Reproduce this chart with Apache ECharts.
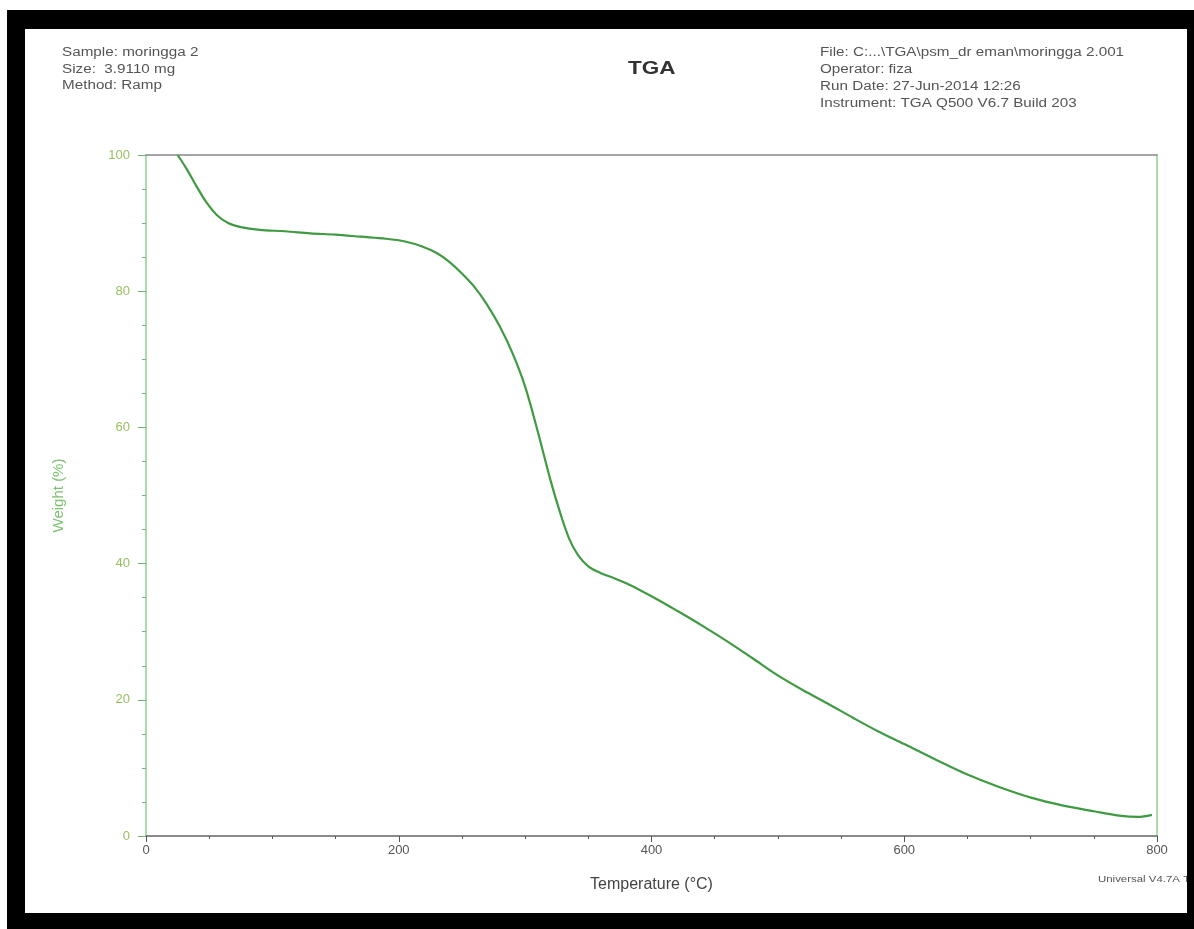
<!DOCTYPE html>
<html>
<head>
<meta charset="utf-8">
<script src="https://cdn.jsdelivr.net/npm/echarts@6/dist/echarts.min.js"></script>
<style>
html,body{margin:0;padding:0;background:#fff;}
#chart{width:1194px;height:929px;}
</style>
</head>
<body>
<div id="chart"></div>
<script>
// Temperature (°C)
var temperature = [25, 32, 40, 48, 56, 65, 75, 90, 110, 130, 150, 170, 190, 205, 218, 230, 240, 250, 260, 270, 280, 290, 300, 310, 320, 328, 335, 342, 350, 360, 370, 380, 391, 405, 420, 440, 459, 480, 499, 520, 539, 560, 580, 600, 625, 649, 675, 701, 725, 751, 770, 785, 796];
// Weight (%)
var weight = [100, 98.0, 95.4, 93.0, 91.2, 90.0, 89.4, 89.0, 88.8, 88.5, 88.3, 88.0, 87.7, 87.3, 86.6, 85.6, 84.3, 82.6, 80.6, 78.0, 74.8, 70.9, 66.0, 59.4, 52.3, 47.3, 43.6, 41.2, 39.6, 38.6, 37.9, 37.1, 36.1, 34.7, 33.1, 30.9, 28.7, 26.1, 23.7, 21.4, 19.5, 17.3, 15.3, 13.5, 11.2, 9.1, 7.2, 5.6, 4.5, 3.6, 3.0, 2.8, 3.1];

var xTicks = [0, 200, 400, 600, 800];
var yTicks = [0, 20, 40, 60, 80, 100];

var headerLeft = ['Sample: moringga 2', 'Size:  3.9110 mg', 'Method: Ramp'];
var headerRight = ['File: C:...\\TGA\\psm_dr eman\\moringga 2.001', 'Operator: fiza', 'Run Date: 27-Jun-2014 12:26', 'Instrument: TGA Q500 V6.7 Build 203'];
var chartTitle = 'TGA';
var xName = 'Temperature (\u00b0C)';
var yName = 'Weight (%)';
var footer = 'Universal V4.7A T';

var FONT = '"Liberation Sans", Arial, sans-serif';
var STRETCH = 1.27;
var data = temperature.map(function (t, i) { return [t, weight[i]]; });

function textLines(lines, x, y0, step, size, color) {
  return lines.map(function (s, i) {
    return {
      type: 'text', x: x, y: y0 + i * step, scaleX: STRETCH, z: 50,
      style: {text: s, fill: color, font: 'normal ' + size + 'px ' + FONT, textAlign: 'left', textVerticalAlign: 'middle', verticalAlign: 'middle'}
    };
  });
}

var graphics = []
  .concat(textLines(headerLeft, 62, 53, 16.5, 12, '#555'))
  .concat(textLines(headerRight, 820, 53, 17, 12, '#555'))
  .concat([
    {type: 'text', x: 628, y: 69, scaleX: 1.25, z: 50,
     style: {text: chartTitle, fill: '#333', font: 'bold 18px ' + FONT, textAlign: 'left', textVerticalAlign: 'middle', verticalAlign: 'middle'}},
    {type: 'text', x: 1098, y: 880, scaleX: STRETCH, z: 50,
     style: {text: footer, fill: '#555', font: 'normal 9px ' + FONT, textAlign: 'left', textVerticalAlign: 'middle', verticalAlign: 'middle'}},
    {type: 'rect', shape: {x: 7, y: 10, width: 1187, height: 19}, style: {fill: '#000'}, z: 100},
    {type: 'rect', shape: {x: 7, y: 10, width: 18, height: 919}, style: {fill: '#000'}, z: 100},
    {type: 'rect', shape: {x: 7, y: 913, width: 1187, height: 16}, style: {fill: '#000'}, z: 100},
    {type: 'rect', shape: {x: 1187, y: 10, width: 7, height: 919}, style: {fill: '#000'}, z: 100}
  ]);

var chart = echarts.init(document.getElementById('chart'), null, {renderer: 'canvas'});
chart.setOption({
  animation: false,
  backgroundColor: '#fff',
  textStyle: {fontFamily: FONT},
  grid: {left: 146, right: 37, top: 155, bottom: 93, containLabel: false},
  xAxis: [{
    type: 'value', min: 0, max: 800, interval: 200,
    name: xName, nameLocation: 'middle', nameGap: 41,
    nameTextStyle: {fontSize: 16, color: '#444', fontFamily: FONT},
    axisLine: {show: true, onZero: false, lineStyle: {color: '#666', width: 1.5}},
    axisTick: {show: true, inside: false, length: 6, lineStyle: {color: '#555'}},
    minorTick: {show: true, splitNumber: 4, length: 3, lineStyle: {color: '#555'}},
    axisLabel: {fontSize: 13, color: '#555', margin: 8, formatter: function (v) { return xTicks.indexOf(v) >= 0 ? String(v) : ''; }},
    splitLine: {show: false}
  }, {
    type: 'value', position: 'top', min: 0, max: 800,
    axisLine: {show: true, onZero: false, lineStyle: {color: '#888', width: 1.5}},
    axisTick: {show: false}, axisLabel: {show: false}, splitLine: {show: false}
  }],
  yAxis: [{
    type: 'value', min: 0, max: 100, interval: 20,
    name: yName, nameLocation: 'middle', nameGap: 80, nameRotate: 90,
    nameTextStyle: {fontSize: 15, color: '#7cc070', fontFamily: FONT},
    axisLine: {show: true, onZero: false, lineStyle: {color: '#8fd08f', width: 1.5}},
    axisTick: {show: true, inside: false, length: 8, lineStyle: {color: '#6cb86c'}},
    minorTick: {show: true, splitNumber: 4, length: 4, lineStyle: {color: '#6cb86c'}},
    axisLabel: {fontSize: 13, color: '#98c060', margin: 16, formatter: function (v) { return yTicks.indexOf(v) >= 0 ? String(v) : ''; }},
    splitLine: {show: false}
  }, {
    type: 'value', position: 'right', min: 0, max: 100,
    axisLine: {show: true, onZero: false, lineStyle: {color: '#8fd08f', width: 1.5}},
    axisTick: {show: false}, axisLabel: {show: false}, splitLine: {show: false}
  }],
  series: [{
    type: 'line', xAxisIndex: 0, yAxisIndex: 0,
    data: data, smooth: 0.35, showSymbol: false, symbol: 'none',
    lineStyle: {color: '#3f9a42', width: 2.2},
    z: 5
  }],
  graphic: graphics
});
</script>
</body>
</html>
